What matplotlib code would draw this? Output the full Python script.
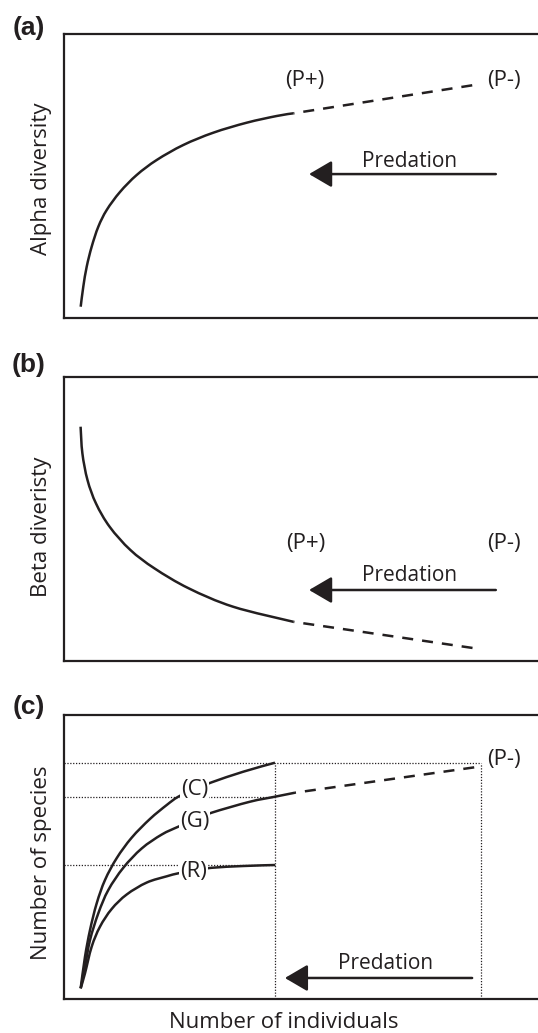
import matplotlib
matplotlib.use("Agg")
import matplotlib.pyplot as plt
from matplotlib.patches import ArrowStyle, PathPatch
from matplotlib.path import Path

# ---------------- data (axes scaled 0-100 in both directions) ----------------
# Panel (a): alpha diversity vs number of individuals
alpha_x = [3.52, 4.07, 4.79, 5.84, 7.24, 9.01, 11.81, 15.34, 19.56, 25.17, 31.50, 38.54, 44.87, 48.40]
alpha_y = [3.80, 10.85, 17.89, 24.93, 31.97, 37.85, 44.19, 50.18, 55.46, 60.74, 65.07, 68.59, 70.95, 71.90]
alpha_ext_x = [48.40, 87.8]
alpha_ext_y = [71.90, 82.2]

# Panel (b): beta diversity vs number of individuals
beta_x = [3.50, 3.88, 4.96, 6.77, 9.66, 14.0, 19.1, 26.3, 35.7, 48.4]
beta_y = [82.5, 73.1, 63.7, 55.4, 47.2, 39.1, 32.6, 25.6, 19.1, 13.8]
beta_ext_x = [48.4, 87.8]
beta_ext_y = [13.8, 4.2]

# Panel (c): number of species vs number of individuals
c_x = [3.52, 4.43, 5.49, 6.90, 8.65, 11.12, 14.28, 18.14, 21.67, 24.11, 27.64, 31.16, 37.83, 44.51]
c_y = [3.77, 14.89, 24.30, 33.70, 41.90, 49.60, 56.80, 63.40, 68.31, 71.23, 73.94, 76.30, 80.04, 83.20]
g_x = [3.52, 4.43, 5.49, 7.24, 9.35, 12.51, 16.39, 20.61, 24.11, 27.64, 31.16, 39.24, 44.51, 48.73]
g_y = [3.77, 11.37, 20.77, 30.18, 38.38, 46.20, 53.00, 57.90, 60.67, 63.20, 65.60, 69.47, 71.23, 72.64]
g_ext_x = [48.73, 87.55]
g_ext_y = [72.64, 81.80]
r_x = [3.52, 4.43, 5.84, 7.59, 10.06, 13.23, 17.45, 21.67, 24.11, 27.43, 31.16, 37.83, 44.51]
r_y = [3.77, 9.05, 18.42, 25.46, 31.70, 36.80, 41.00, 43.20, 44.26, 45.25, 46.20, 46.83, 47.18]
p_plus_x = 44.51
p_minus_x = 87.97
ref_levels = [83.20, 71.23, 47.18]

panel_labels = ["(a)", "(b)", "(c)"]
y_labels = ["Alpha diversity", "Beta diveristy", "Number of species"]
x_label = "Number of individuals"
arrow_text = "Predation"

# ---------------- style ----------------
INK = "#231f20"
FONT = ["Open Sans", "DejaVu Sans"]
FS = 16
FS_PRED = 15
LW = 1.8

W, H = 538, 1033
fig = plt.figure(figsize=(W / 100, H / 100), dpi=100)


def make_axes(top_px, bottom_px):
    left_px, right_px = 64, 538
    ax = fig.add_axes([left_px / W, 1 - bottom_px / H,
                       (right_px - left_px) / W, (bottom_px - top_px) / H])
    ax.set_xlim(0, 100)
    ax.set_ylim(0, 100)
    ax.set_xticks([])
    ax.set_yticks([])
    for s in ["left", "top", "bottom"]:
        ax.spines[s].set_linewidth(1.6)
        ax.spines[s].set_color(INK)
    ax.spines["right"].set_visible(False)
    return ax


def smooth_curve(ax, xs, ys, **kw):
    """Draw a smooth cardinal (Catmull-Rom) curve through the points, in display space."""
    pts = ax.transData.transform(list(zip(xs, ys)))
    n = len(pts)
    verts = [tuple(pts[0])]
    codes = [Path.MOVETO]
    for i in range(n - 1):
        p0 = pts[i - 1] if i > 0 else pts[i]
        p1 = pts[i]
        p2 = pts[i + 1]
        p3 = pts[i + 2] if i + 2 < n else pts[i + 1]
        c1 = p1 + (p2 - p0) / 6.0
        c2 = p2 - (p3 - p1) / 6.0
        verts += [tuple(c1), tuple(c2), tuple(p2)]
        codes += [Path.CURVE4] * 3
    inv = ax.transData.inverted()
    verts = inv.transform(verts)
    patch = PathPatch(Path(verts, codes), facecolor="none", edgecolor=INK, lw=LW,
                      capstyle="butt", **kw)
    ax.add_patch(patch)


def arrow(ax, tip_x, tail_x, y):
    ax.annotate("", xy=(tip_x, y), xytext=(tail_x, y),
                arrowprops=dict(arrowstyle=ArrowStyle("-|>", head_length=14, head_width=8.2),
                                mutation_scale=1, color=INK, lw=LW,
                                shrinkA=0, shrinkB=0))


def txt(ax, x, y, s, size=FS, **kw):
    ax.text(x, y, s, ha="center", va="center", fontsize=size, family=FONT, color=INK, **kw)


dash = (4.0, (4.4, 3.6))

# ---- panel (a)
ax1 = make_axes(33.5, 317.5)
smooth_curve(ax1, alpha_x, alpha_y)
ax1.plot(alpha_ext_x, alpha_ext_y, color=INK, lw=LW, linestyle=dash, dash_capstyle="butt")
txt(ax1, 50.8, 83.6, "(P+)")
txt(ax1, 92.8, 83.6, "(P-)")
txt(ax1, 73.0, 55.0, arrow_text, size=FS_PRED)
arrow(ax1, 51.7, 91.1, 50.5)

# ---- panel (b)
ax2 = make_axes(377, 661)
smooth_curve(ax2, beta_x, beta_y)
ax2.plot(beta_ext_x, beta_ext_y, color=INK, lw=LW, linestyle=dash, dash_capstyle="butt")
txt(ax2, 51.1, 41.5, "(P+)")
txt(ax2, 92.8, 41.5, "(P-)")
txt(ax2, 73.0, 30.2, arrow_text, size=FS_PRED)
arrow(ax2, 51.7, 91.1, 25.0)

# ---- panel (c)
ax3 = make_axes(715, 999)
dot = (0, (1.0, 1.3))
ax3.plot([0, p_minus_x], [ref_levels[0]] * 2, color=INK, lw=0.9, linestyle=dot)
for lev in ref_levels[1:]:
    ax3.plot([0, p_plus_x], [lev, lev], color=INK, lw=0.9, linestyle=dot)
for xv in [p_plus_x, p_minus_x]:
    ax3.plot([xv, xv], [0, ref_levels[0]], color=INK, lw=0.9, linestyle=dot)
smooth_curve(ax3, c_x, c_y)
smooth_curve(ax3, g_x, g_y)
ax3.plot(g_ext_x, g_ext_y, color=INK, lw=LW, linestyle=dash, dash_capstyle="butt")
smooth_curve(ax3, r_x, r_y)
box = dict(facecolor="white", edgecolor="none", pad=0.6)
ax3.text(27.6, 73.9, "(C)", ha="center", va="center", fontsize=FS, family=FONT, color=INK, bbox=box, zorder=5)
ax3.text(27.6, 62.6, "(G)", ha="center", va="center", fontsize=FS, family=FONT, color=INK, bbox=box, zorder=5)
ax3.text(27.3, 44.8, "(R)", ha="center", va="center", fontsize=FS, family=FONT, color=INK, bbox=box, zorder=5)
txt(ax3, 92.8, 84.4, "(P-)")
txt(ax3, 67.9, 12.6, arrow_text, size=FS_PRED)
arrow(ax3, 46.6, 86.1, 7.4)

# ---- axis labels
for ax, lab, yc in zip([ax1, ax2, ax3], y_labels, [0.49, 0.472, 0.479]):
    ax.set_ylabel(lab, fontsize=FS, family=FONT, color=INK, va="center")
    ax.yaxis.set_label_coords(-0.0485, yc)
ax3.set_xlabel(x_label, fontsize=FS, family=FONT, color=INK, va="center")
ax3.xaxis.set_label_coords(0.464, -0.081)

# ---- panel letters
for lab, yc in zip(panel_labels, [28, 365, 707]):
    fig.text(29 / W, 1 - yc / H, lab, ha="center", va="center", fontsize=19,
             fontweight="bold", family=["Liberation Sans", "DejaVu Sans"], color=INK)

fig.savefig("out.png", dpi=100)
